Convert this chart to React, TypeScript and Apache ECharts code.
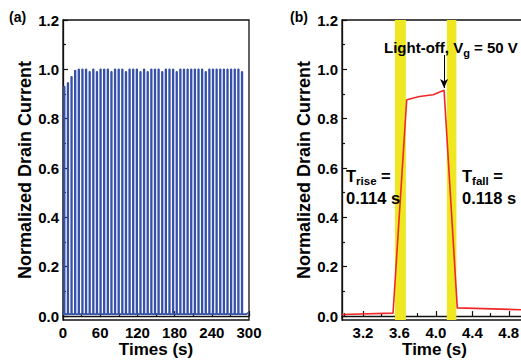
import React, { useEffect, useRef } from "react";
import * as echarts from "echarts";

// ---------- data ----------
// Panel (a): repeated light pulses
const pulseStart = [
  1.5, 7.35, 13.2, 19.05, 24.9, 30.75, 36.6, 42.45, 48.3, 54.15,
  60.0, 65.85, 71.7, 77.55, 83.4, 89.25, 95.1, 100.95, 106.8, 112.65,
  118.5, 124.35, 130.2, 136.05, 141.9, 147.75, 153.6, 159.45, 165.3, 171.15,
  177.0, 182.85, 188.7, 194.55, 200.4, 206.25, 212.1, 217.95, 223.8, 229.65,
  235.5, 241.35, 247.2, 253.05, 258.9, 264.75, 270.6, 276.45, 282.3, 288.15,
];
const pulsePeak = [
  0.93, 0.945, 0.97, 0.995, 1.0, 1.0, 1.0, 0.99, 1.0, 0.99,
  1.0, 1.0, 1.0, 0.99, 1.0, 1.0, 1.0, 0.99, 1.0, 1.0,
  1.0, 0.99, 1.0, 0.99, 1.0, 1.0, 1.0, 0.99, 1.0, 1.0,
  1.0, 0.99, 1.0, 1.0, 1.0, 1.0, 1.0, 1.0, 1.0, 0.99,
  1.0, 1.0, 1.0, 1.0, 1.0, 1.0, 1.0, 1.0, 1.0, 0.99,
];
const pulseWidth = 1.2; // s
const baseLevel = 0.008;
const tailTime = [296, 300];
const tailValue = [0.008, 0.016];

// Panel (b): single pulse
const redTime = [2.97, 3.53, 3.68, 3.82, 3.97, 4.09, 4.235, 5.0];
const redValue = [0.006, 0.012, 0.877, 0.89, 0.897, 0.915, 0.033, 0.025];
const bandStart = [3.551, 4.12];
const bandEnd = [3.671, 4.225];
const arrowX = 4.09;
const arrowFrom = 1.058;
const arrowTo = 0.924;

// Tick values
const yMajor = [0, 0.2, 0.4, 0.6, 0.8, 1.0, 1.2];
const yMinor = [0.1, 0.3, 0.5, 0.7, 0.9, 1.1];
const bMajor = [3.2, 3.6, 4.0, 4.4, 4.8];
const bMinor = [3.0, 3.4, 3.8, 4.2, 4.6];

const FONT = "'Liberation Sans', Arial, Helvetica, sans-serif";

export default function App() {
  const ref = useRef<HTMLDivElement>(null);

  useEffect(() => {
    if (!ref.current) return;
    const chart = echarts.init(ref.current, null, { renderer: "svg" });

    const blueData: number[][] = [[0, baseLevel]];
    pulseStart.forEach((s, i) => {
      blueData.push([s, baseLevel]);
      blueData.push([s, pulsePeak[i]]);
      blueData.push([s + pulseWidth, pulsePeak[i]]);
      blueData.push([s + pulseWidth, baseLevel]);
    });
    tailTime.forEach((t, i) => blueData.push([t, tailValue[i]]));

    const redData = redTime.map((t, i) => [t, redValue[i]]);

    const labelStyle = {
      color: "#000",
      fontFamily: FONT,
      fontWeight: "bold" as const,
      fontSize: 15,
    };
    const nameStyle = {
      color: "#000",
      fontFamily: FONT,
      fontWeight: "bold" as const,
      fontSize: 18,
    };
    const xNameStyle = { ...nameStyle, fontSize: 17, lineHeight: 18 };
    const axisLine = { show: true, lineStyle: { color: "#111", width: 1.3 } };
    const tickLine = { color: "#111", width: 1.2 };

    const minorAxisCommon = {
      axisLine: { show: false },
      axisLabel: { show: false },
      splitLine: { show: false },
    };

    const subRich = (size: number, sub: number) => ({
      a: { fontFamily: FONT, fontWeight: "bold", fontSize: size, lineHeight: 22, verticalAlign: "middle", color: "#000" },
      s: { fontFamily: FONT, fontWeight: "bold", fontSize: sub, lineHeight: 22, verticalAlign: "bottom", padding: [9, 0, 0, 0], color: "#000" },
    });

    const option: any = {
      animation: false,
      backgroundColor: "#fff",
      grid: [
        { left: 63, top: 20, width: 186, height: 300, show: true, borderColor: "#111", borderWidth: 1.3, backgroundColor: "transparent", outerBoundsMode: "none", containLabel: false },
        { left: 342, top: 20, width: 185, height: 300, show: true, borderColor: "#111", borderWidth: 1.3, backgroundColor: "transparent", outerBoundsMode: "none", containLabel: false },
      ],
      xAxis: [
        {
          gridIndex: 0, type: "value", min: 0, max: 300, interval: 60,
          axisLine, splitLine: { show: false },
          axisTick: { inside: true, length: 5, lineStyle: tickLine },
          minorTick: { show: true, splitNumber: 2, length: 3, lineStyle: tickLine },
          axisLabel: { ...labelStyle, margin: 5 },
          name: "Times (s)", nameLocation: "middle", nameGap: 20, nameMoveOverlap: false, nameTextStyle: xNameStyle,
        },
        {
          gridIndex: 1, type: "value", min: 2.97, max: 5.0,
          axisLine, splitLine: { show: false },
          axisTick: { inside: true, length: 5, customValues: bMajor, lineStyle: tickLine },
          axisLabel: { ...labelStyle, margin: 5, customValues: bMajor, formatter: (v: number) => v.toFixed(1) },
          name: "Time (s)", nameLocation: "middle", nameGap: 20, nameMoveOverlap: false, nameTextStyle: xNameStyle,
        },
        {
          gridIndex: 1, type: "value", min: 2.97, max: 5.0, position: "bottom",
          ...minorAxisCommon,
          axisTick: { inside: true, length: 3, customValues: bMinor, lineStyle: tickLine },
        },
      ],
      yAxis: [
        {
          gridIndex: 0, type: "value", min: -0.016, max: 1.2,
          axisLine, splitLine: { show: false },
          axisTick: { inside: true, length: 5, customValues: yMajor, lineStyle: tickLine },
          axisLabel: { ...labelStyle, margin: 4, customValues: yMajor, formatter: (v: number) => v.toFixed(1) },
          name: "Normalized Drain Current", nameLocation: "middle", nameGap: 29, nameMoveOverlap: false, nameTextStyle: nameStyle,
        },
        {
          gridIndex: 0, type: "value", min: -0.016, max: 1.2, position: "left",
          ...minorAxisCommon,
          axisTick: { inside: true, length: 3, customValues: yMinor, lineStyle: tickLine },
        },
        {
          gridIndex: 1, type: "value", min: -0.016, max: 1.2,
          axisLine, splitLine: { show: false },
          axisTick: { inside: true, length: 5, customValues: yMajor, lineStyle: tickLine },
          axisLabel: { ...labelStyle, margin: 4, customValues: yMajor, formatter: (v: number) => v.toFixed(1) },
          name: "Normalized Drain Current", nameLocation: "middle", nameGap: 29, nameMoveOverlap: false, nameTextStyle: nameStyle,
        },
        {
          gridIndex: 1, type: "value", min: -0.016, max: 1.2, position: "left",
          ...minorAxisCommon,
          axisTick: { inside: true, length: 3, customValues: yMinor, lineStyle: tickLine },
        },
      ],
      series: [
        {
          type: "line", xAxisIndex: 0, yAxisIndex: 0, data: blueData,
          showSymbol: false, symbol: "none",
          lineStyle: { color: "#3550A8", width: 1.6 },
          itemStyle: { color: "#3550A8" },
        },
        {
          // light-switching windows (yellow bands) drawn behind the red trace
          type: "line", xAxisIndex: 1, yAxisIndex: 2, data: [], z: 1,
          markArea: {
            silent: true,
            z: 1,
            itemStyle: { color: "#EEE722", opacity: 1 },
            data: bandStart.map((s, i) => [{ xAxis: s }, { xAxis: bandEnd[i] }]),
          },
        },
        {
          type: "line", xAxisIndex: 1, yAxisIndex: 2, data: redData,
          showSymbol: false, symbol: "none", z: 5,
          lineStyle: { color: "#F02828", width: 1.6 },
          itemStyle: { color: "#F02828" },
          markLine: {
            silent: true,
            symbol: ["none", "arrow"],
            symbolSize: [6, 9],
            label: { show: false },
            lineStyle: { color: "#000", width: 1, type: "solid" },
            data: [[{ coord: [arrowX, arrowFrom] }, { coord: [arrowX, arrowTo] }]],
          },
        },
      ],
      graphic: [
        { type: "text", z: 100, x: 9, y: 17, style: { text: "(a)", fontFamily: FONT, fontWeight: "bold", fontSize: 14, fill: "#000", align: "left", verticalAlign: "middle" } },
        { type: "text", z: 100, x: 290, y: 17, style: { text: "(b)", fontFamily: FONT, fontWeight: "bold", fontSize: 14, fill: "#000", align: "left", verticalAlign: "middle" } },
        {
          type: "text", z: 100, x: 384, y: 47,
          style: {
            text: "{a|Light-off, V}{s|g}{a| = 50 V}",
            fill: "#000", align: "left", verticalAlign: "middle",
            rich: subRich(15, 11),
          },
        },
        {
          type: "text", z: 100, x: 346, y: 187,
          style: {
            text: "{a|T}{s|rise}{a| =}\n{a|0.114 s}",
            fill: "#000", align: "left", verticalAlign: "middle",
            rich: subRich(16.5, 11.5),
          },
        },
        {
          type: "text", z: 100, x: 462, y: 187,
          style: {
            text: "{a|T}{s|fall}{a| =}\n{a|0.118 s}",
            fill: "#000", align: "left", verticalAlign: "middle",
            rich: subRich(16.5, 11.5),
          },
        },
      ],
    };

    chart.setOption(option);
    return () => chart.dispose();
  }, []);

  return (
    <div style={{ position: "absolute", left: 0, top: 0, width: 521, height: 360, overflow: "hidden", background: "#fff" }}>
      <div ref={ref} style={{ width: 540, height: 360 }} />
    </div>
  );
}
